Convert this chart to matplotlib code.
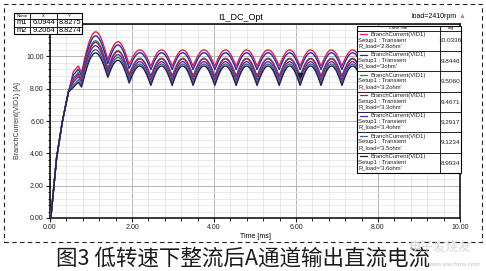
import numpy as np
import matplotlib.pyplot as plt
from matplotlib.patches import Rectangle
from matplotlib.ticker import MultipleLocator, AutoMinorLocator, FuncFormatter

W, H = 486, 271

# ---- data ----
r_loads = ["2.8ohm", "3ohm", "3.2ohm", "3.3ohm", "3.4ohm", "3.5ohm", "3.6ohm"]
avg_vals = ["10.0336", "9.8446", "9.5060", "9.4671", "9.2917", "9.1234", "8.9934"]
colors = ["#e8203c", "#2424c8", "#23884a", "#a8204c", "#6a24b0", "#3a6a88", "#22224e"]

# start-up rise (shared by all curves)
rise_t = [0.02, 0.16, 0.30, 0.45]
rise_v = [0.0, 3.7, 5.95, 7.8]
knee_t, hump_t = 0.57, 0.69
knee_v = [9.05, 8.85, 8.65, 8.55, 8.40, 8.22, 8.08]
hump_v = [9.40, 9.20, 9.00, 8.90, 8.75, 8.55, 8.40]

# rectifier cusps (ms) and the values at cusps / peaks for each curve
cusp_t = [0.77, 1.41, 1.93, 2.46, 2.98, 3.49, 4.02, 4.54, 5.05, 5.59,
          6.10, 6.61, 7.12, 7.64, 8.16, 8.68, 9.20, 9.72, 10.24]
cusp0 = [9.00, 8.80, 8.62, 8.52, 8.38, 8.22, 8.10]
cusp1 = [9.80, 9.55, 9.25, 9.15, 8.98, 8.82, 8.70]
cusp2 = [9.50, 9.25, 8.90, 8.82, 8.62, 8.48, 8.35]
peak1 = [11.50, 11.25, 10.95, 10.85, 10.65, 10.40, 10.20]
peak2 = [10.90, 10.70, 10.35, 10.30, 10.10, 9.92, 9.75]
valley_ss = [9.40, 9.18, 8.78, 8.72, 8.52, 8.34, 8.20]
peak_ss = [10.40, 10.22, 9.88, 9.84, 9.67, 9.52, 9.40]

markers = [("m1", "6.0944", "8.8275"), ("m2", "9.2064", "8.8274")]
m1_xy = (6.0944, 8.8275)


def fx(x):
    return x / W


def fy(y):
    return 1 - y / H


def build_curve(i):
    n_seg = len(cusp_t) - 1
    cv = [cusp0[i], cusp1[i], cusp2[i]] + [valley_ss[i]] * (len(cusp_t) - 3)
    pv = [peak1[i], peak2[i]] + [peak_ss[i]] * (n_seg - 2)
    t = list(rise_t) + [knee_t, hump_t]
    v = list(rise_v) + [knee_v[i], hump_v[i]]
    for k in range(n_seg):
        s = np.linspace(0, 1, 40)
        a, b = cv[k], cv[k + 1]
        seg_t = cusp_t[k] + (cusp_t[k + 1] - cusp_t[k]) * s
        seg_v = a + (b - a) * s + (pv[k] - (a + b) / 2) * np.sin(np.pi * s)
        t.extend(seg_t)
        v.extend(seg_v)
    return np.array(t), np.array(v)


def hline(x0, x1, y, **kw):
    fig.add_artist(plt.Line2D([fx(x0), fx(x1)], [fy(y)] * 2, transform=fig.transFigure, **kw))


def vline(x, y0, y1, **kw):
    fig.add_artist(plt.Line2D([fx(x)] * 2, [fy(y0), fy(y1)], transform=fig.transFigure, **kw))


plt.rcParams['font.family'] = ['Liberation Sans', 'DejaVu Sans']
fig = plt.figure(figsize=(W / 100, H / 100), dpi=100)
ax = fig.add_axes([fx(50), fy(218), (460 - 50) / W, (218 - 24) / H])

for i in range(len(r_loads)):
    t, v = build_curve(i)
    ax.plot(t, v, color=colors[i], lw=1.0, zorder=3)
ax.plot(*m1_xy, marker='v', ms=3, color='#202020', zorder=4)

ax.set_xlim(0, 10)
ax.set_ylim(0, 12)
ax.xaxis.set_major_locator(MultipleLocator(2))
ax.yaxis.set_major_locator(MultipleLocator(2))
ax.xaxis.set_minor_locator(AutoMinorLocator(5))
ax.yaxis.set_minor_locator(AutoMinorLocator(5))
ax.xaxis.set_major_formatter(FuncFormatter(lambda v, p: f"{v:.2f}"))
# the 12.00 label sits under the marker table in the original
ax.yaxis.set_major_formatter(FuncFormatter(lambda v, p: "" if v > 11 else f"{v:.2f}"))
ax.grid(which='major', color='#b4b4b4', lw=0.7)
ax.grid(which='minor', color='#e2e2e2', lw=0.5)
ax.set_axisbelow(True)
ax.tick_params(which='major', direction='out', length=3, width=0.8, labelsize=5, pad=1.5, colors='#222222')
ax.tick_params(which='minor', direction='out', length=1.8, width=0.6)
for sp in ax.spines.values():
    sp.set_linewidth(1.1)
ax.set_xlabel("Time [ms]", fontsize=5, labelpad=1)
ax.set_ylabel("BranchCurrent(VID1) [A]", fontsize=5, labelpad=4, color='#333333')

fig.text(fx(241), fy(17), "I1_DC_Opt", fontsize=6.5, ha='center', va='center')
fig.text(fx(434), fy(16), "load=2410rpm", fontsize=5, ha='center', va='center')
fig.text(fx(462), fy(16), "\u25b2", fontsize=5, ha='center', va='center', color='#c08060')

# dashed outer frame
fig.patches.append(Rectangle((fx(4), fy(242)), (482 - 4) / W, (242 - 4) / H,
                             transform=fig.transFigure, fill=False, ls=(0, (4, 3)),
                             lw=0.8, ec='#222222'))

# marker table, top left
col_x = [14, 30, 57, 82]
row_y = [13, 19.3, 26.7, 34.3]
fig.patches.append(Rectangle((fx(14), fy(34.3)), 68 / W, 21.3 / H, transform=fig.transFigure,
                             fc='white', ec='black', lw=0.8))
for xx in col_x[1:-1]:
    vline(xx, 13, 34.3, color='black', lw=0.6)
for yy in row_y[1:-1]:
    hline(14, 82, yy, color='black', lw=0.6)
for j, hdr in enumerate(["Name", "X", "Y"]):
    fig.text(fx((col_x[j] + col_x[j + 1]) / 2), fy(16.3), hdr, fontsize=3, ha='center', va='center')
for r, row in enumerate(markers):
    for j, cell in enumerate(row):
        fig.text(fx((col_x[j] + col_x[j + 1]) / 2), fy((row_y[r + 1] + row_y[r + 2]) / 2),
                 cell, fontsize=5.3, ha='center', va='center')

# curve info legend, top right
lx0, lx1, ldiv = 357, 461, 440
ly0, lhdr = 26, 30.5
row_h = (173 - lhdr) / len(r_loads)
fig.patches.append(Rectangle((fx(lx0), fy(173)), (lx1 - lx0) / W, (173 - ly0) / H,
                             transform=fig.transFigure, fc='white', ec='black', lw=0.8))
vline(ldiv, ly0, 173, color='black', lw=0.6)
fig.text(fx(398), fy(28.3), "Curve Info", fontsize=2.8, ha='center', va='center')
fig.text(fx(450.5), fy(28.3), "avg", fontsize=2.8, ha='center', va='center')
for i in range(len(r_loads)):
    top = lhdr + i * row_h
    hline(lx0, lx1, top, color='black', lw=0.6)
    hline(359.5, 367, top + 3.8, color=colors[i], lw=0.9)
    fig.text(fx(370), fy(top + 3.8), "BranchCurrent(VID1)", fontsize=4.2, va='center', color='#222222')
    fig.text(fx(358.5), fy(top + 9.6), "Setup1 : Transient", fontsize=4.2, va='center', color='#222222')
    fig.text(fx(358.5), fy(top + 15.2), "R_load='%s'" % r_loads[i], fontsize=4.2, va='center',
             color='#222222')
    fig.text(fx(450.5), fy(top + 10.5), avg_vals[i], fontsize=4.6, ha='center', va='center',
             color='#222222')

# caption and watermark
fig.text(fx(243), fy(259), "图3 低转速下整流后A通道输出直流电流", fontsize=15.5,
         ha='center', va='center', color='#1a1a1a',
         family=['Noto Sans CJK SC', 'DejaVu Sans'])
fig.text(fx(440), fy(247), "电子发烧友", fontsize=9, ha='center', va='center', color='#cccccc',
         alpha=0.8, family=['Noto Sans CJK SC', 'DejaVu Sans'])
fig.text(fx(454), fy(264), "www.elecfans.com", fontsize=4.5, ha='center', va='center',
         color='#c4c4c4')

fig.savefig("out.png", dpi=100)
